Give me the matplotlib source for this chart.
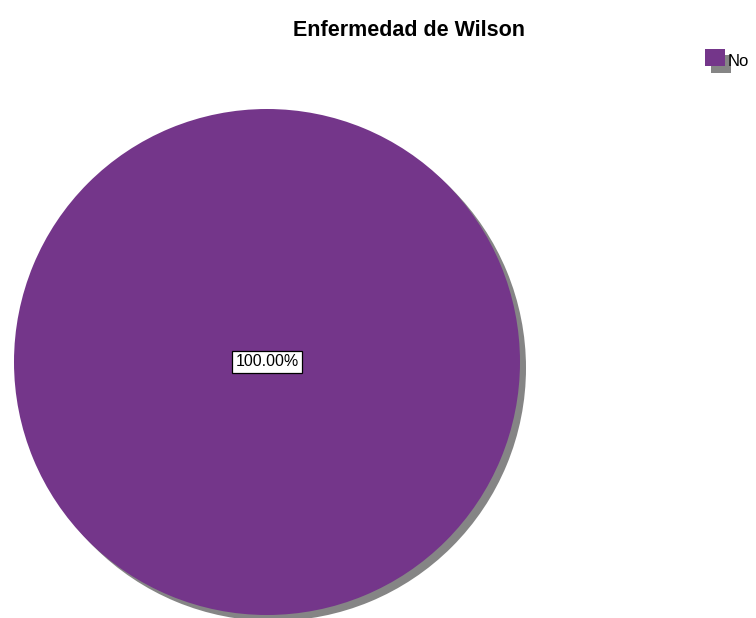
import matplotlib.pyplot as plt
from matplotlib.patches import Rectangle

# data
labels = ["No"]
values = [100.0]
colors = ["#74368a"]
title = "Enfermedad de Wilson"

plt.rcParams['font.family'] = ['Liberation Sans', 'DejaVu Sans']

fig = plt.figure(figsize=(7.56, 6.18), dpi=100)
ax = fig.add_axes([0, 0, 1, 1])

# shadow pie drawn first, a few pixels down and right
ax.pie(values, colors=["#858585"], center=(273, 368), radius=253,
       startangle=90, counterclock=False, frame=True)
wedges, texts, autotexts = ax.pie(values, colors=colors, center=(267, 362), radius=253,
                                  startangle=90, counterclock=False, frame=True,
                                  autopct='%.2f%%', pctdistance=0.0,
                                  textprops=dict(fontsize=11.5, color='black'))
for t in autotexts:
    t.set_bbox(dict(facecolor='white', edgecolor='black', linewidth=0.9, pad=2.6))

ax.set_xlim(0, 756)
ax.set_ylim(618, 0)
ax.set_aspect('equal')
ax.axis('off')

fig.text(409 / 756, 1 - 30 / 618, title, ha='center', va='center',
         fontsize=15.5, fontweight='bold')

# legend square with shadow
ax.add_patch(Rectangle((711, 55), 20, 18, facecolor="#858585", edgecolor='none', zorder=3))
ax.add_patch(Rectangle((705, 49), 20, 17, facecolor=colors[0], edgecolor='none', zorder=4))
ax.text(728, 61, labels[0], ha='left', va='center', fontsize=12, zorder=5)

fig.savefig("out.png", dpi=100)
